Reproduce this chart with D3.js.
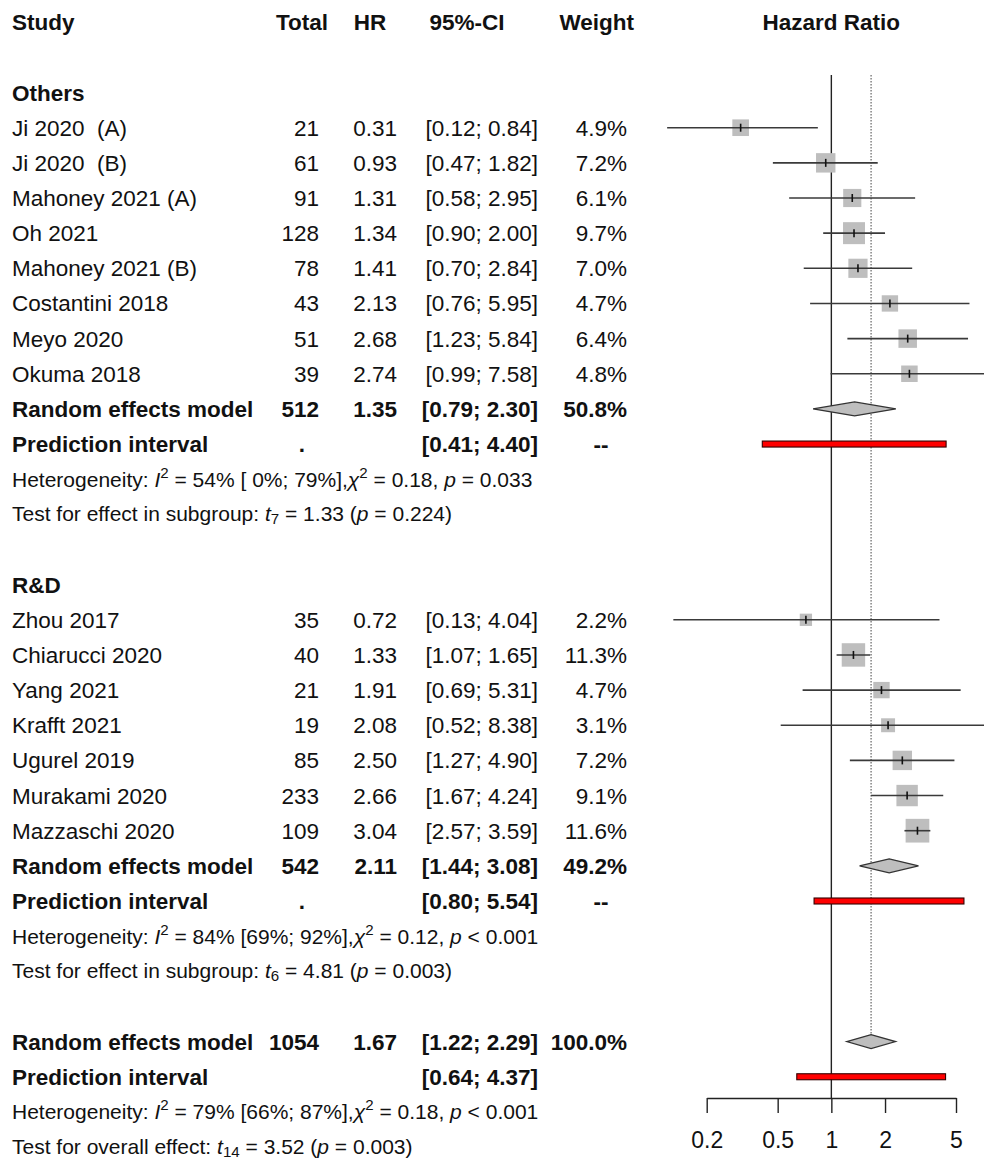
<!DOCTYPE html>
<html><head><meta charset="utf-8">
<script src="https://cdn.jsdelivr.net/npm/d3@7"></script>
<style>
body{margin:0;background:#fff;}
svg{display:block;font-family:"Liberation Sans",Arial,sans-serif;}
text{white-space:pre;fill:#111;}
</style></head>
<body><svg id="c" width="984" height="1160"></svg>
<script>
// ---------- data ----------
const groups = ["Others", "R&D"];
const studies = ["Ji 2020  (A)", "Ji 2020  (B)", "Mahoney 2021 (A)", "Oh 2021", "Mahoney 2021 (B)", "Costantini 2018", "Meyo 2020", "Okuma 2018",
  "Zhou 2017", "Chiarucci 2020", "Yang 2021", "Krafft 2021", "Ugurel 2019", "Murakami 2020", "Mazzaschi 2020"];
const studyGroup = ["Others","Others","Others","Others","Others","Others","Others","Others",
  "R&D","R&D","R&D","R&D","R&D","R&D","R&D"];
const totals = [21, 61, 91, 128, 78, 43, 51, 39, 35, 40, 21, 19, 85, 233, 109];
const hrs    = [0.31, 0.93, 1.31, 1.34, 1.41, 2.13, 2.68, 2.74, 0.72, 1.33, 1.91, 2.08, 2.50, 2.66, 3.04];
const lows   = [0.12, 0.47, 0.58, 0.90, 0.70, 0.76, 1.23, 0.99, 0.13, 1.07, 0.69, 0.52, 1.27, 1.67, 2.57];
const highs  = [0.84, 1.82, 2.95, 2.00, 2.84, 5.95, 5.84, 7.58, 4.04, 1.65, 5.31, 8.38, 4.90, 4.24, 3.59];
const weights = [4.9, 7.2, 6.1, 9.7, 7.0, 4.7, 6.4, 4.8, 2.2, 11.3, 4.7, 3.1, 7.2, 9.1, 11.6];

const groupTotals = [512, 542];
const groupHR = [1.35, 2.11];
const groupLow = [0.79, 1.44];
const groupHigh = [2.30, 3.08];
const groupWeight = ["50.8%", "49.2%"];
const groupPILow = [0.41, 0.80];
const groupPIHigh = [4.40, 5.54];
const groupI2 = ["54%", "84%"];
const groupI2CI = ["[ 0%; 79%]", "[69%; 92%]"];
const groupTau2 = ["0.18", "0.12"];
const groupHetP = ["= 0.033", "< 0.001"];
const groupDf = ["7", "6"];
const groupT = ["1.33", "4.81"];
const groupP = ["0.224", "0.003"];

const overallTotal = 1054, overallHR = 1.67, overallLow = 1.22, overallHigh = 2.29, overallWeight = "100.0%";
const overallPILow = 0.64, overallPIHigh = 4.37;
const overallI2 = "79%", overallI2CI = "[66%; 87%]", overallTau2 = "0.18", overallHetP = "< 0.001";
const overallDf = "14", overallT = "3.52", overallP = "0.003";

const tickValues = [0.2, 0.5, 1, 2, 5];
const tickLabels = ["0.2", "0.5", "1", "2", "5"];

// ---------- layout ----------
const svg = d3.select("#c");
const f2 = d3.format(".2f");
const FS = 22.5, FSH = 21;
const row0 = 127.7, rowH = 35.15;
const y = i => row0 + i * rowH;
const x = d3.scaleLog().domain([0.2, 5]).range([706.7, 956]);
const sq = d3.scaleSqrt().domain([0, 11.6]).range([3.5, 23.7]);
const col = {study: 12, total: 319, hr: 397, ci: 538, w: 627};

function txt(xp, yp, s, anchor, bold, size) {
  return svg.append("text").attr("x", xp).attr("y", yp).attr("text-anchor", anchor || "start")
    .attr("font-size", size || FS).attr("font-weight", bold ? "bold" : "normal").text(s);
}
const ci = (l, h) => "[" + f2(l) + "; " + f2(h) + "]";

// header
const hy = y(-3) + 8;
txt(col.study, hy, "Study", "start", true);
txt(328, hy, "Total", "end", true);
txt(370, hy, "HR", "middle", true);
txt(467, hy, "95%-CI", "middle", true);
txt(634, hy, "Weight", "end", true);
txt(x(1), hy, "Hazard Ratio", "middle", true);

// build rows
const rows = [];
let r = 0;
groups.forEach((g, gi) => {
  rows.push({type: "group", label: g, r: r++});
  studies.forEach((s, i) => { if (studyGroup[i] === g) rows.push({type: "study", i, r: r++}); });
  rows.push({type: "rem", total: groupTotals[gi], hr: groupHR[gi], lo: groupLow[gi], hi: groupHigh[gi], w: groupWeight[gi], r: r++});
  rows.push({type: "pi", lo: groupPILow[gi], hi: groupPIHigh[gi], dot: true, r: r++});
  rows.push({type: "het", i2: groupI2[gi], i2ci: groupI2CI[gi], tau: groupTau2[gi], p: groupHetP[gi], r: r++});
  rows.push({type: "test", label: "Test for effect in subgroup: ", df: groupDf[gi], t: groupT[gi], p: groupP[gi], r: r++});
  r++;
});
rows.push({type: "rem", total: overallTotal, hr: overallHR, lo: overallLow, hi: overallHigh, w: overallWeight, r: r++});
rows.push({type: "pi", lo: overallPILow, hi: overallPIHigh, dot: false, r: r++});
rows.push({type: "het", i2: overallI2, i2ci: overallI2CI, tau: overallTau2, p: overallHetP, r: r++});
rows.push({type: "test", label: "Test for overall effect: ", df: overallDf, t: overallT, p: overallP, r: r++});
rows.forEach(d => d.yy = y(d.r - 1));

const axisY = 1098;
const lastRem = rows.filter(d => d.type === "rem").slice(-1)[0];

// reference lines
svg.append("line").attr("x1", x(1)).attr("x2", x(1)).attr("y1", 75).attr("y2", axisY)
  .attr("stroke", "#222").attr("stroke-width", 1.4);
svg.append("line").attr("x1", x(overallHR)).attr("x2", x(overallHR)).attr("y1", 75).attr("y2", lastRem.yy - 7)
  .attr("stroke", "#444").attr("stroke-width", 1).attr("stroke-dasharray", "1.5,1.5");

rows.forEach(d => {
  const tb = d.yy + 8;
  if (d.type === "group") {
    txt(col.study, tb, d.label, "start", true);
  } else if (d.type === "study") {
    const i = d.i;
    txt(col.study, tb, studies[i]);
    txt(col.total, tb, String(totals[i]), "end");
    txt(col.hr, tb, f2(hrs[i]), "end");
    txt(col.ci, tb, ci(lows[i], highs[i]), "end");
    txt(col.w, tb, weights[i].toFixed(1) + "%", "end");
    const s = sq(weights[i]);
    svg.append("rect").attr("x", x(hrs[i]) - s / 2).attr("y", d.yy - s / 2).attr("width", s).attr("height", s)
      .attr("fill", "#bebebe");
    svg.append("line").attr("x1", x(lows[i])).attr("x2", x(highs[i])).attr("y1", d.yy).attr("y2", d.yy)
      .attr("stroke", "#3a3a3a").attr("stroke-width", 1.6);
    svg.append("line").attr("x1", x(hrs[i])).attr("x2", x(hrs[i])).attr("y1", d.yy - 4).attr("y2", d.yy + 4)
      .attr("stroke", "#111").attr("stroke-width", 1.6);
  } else if (d.type === "rem") {
    txt(col.study, tb, "Random effects model", "start", true);
    txt(col.total, tb, String(d.total), "end", true);
    txt(col.hr, tb, f2(d.hr), "end", true);
    txt(col.ci, tb, ci(d.lo, d.hi), "end", true);
    txt(col.w, tb, d.w, "end", true);
    const h = 7;
    svg.append("path").attr("d", `M${x(d.lo)},${d.yy} L${x(d.hr)},${d.yy - h} L${x(d.hi)},${d.yy} L${x(d.hr)},${d.yy + h} Z`)
      .attr("fill", "#bebebe").attr("stroke", "#333").attr("stroke-width", 1.3);
  } else if (d.type === "pi") {
    txt(col.study, tb, "Prediction interval", "start", true);
    if (d.dot) { txt(302, tb, ".", "middle", true); txt(601, tb, "--", "middle", true); }
    txt(col.ci, tb, ci(d.lo, d.hi), "end", true);
    svg.append("rect").attr("x", x(d.lo)).attr("y", d.yy - 3).attr("width", x(d.hi) - x(d.lo)).attr("height", 6)
      .attr("fill", "#ff0000").attr("stroke", "#300").attr("stroke-width", 1.1);
  } else if (d.type === "het") {
    const t = svg.append("text").attr("x", col.study).attr("y", d.yy + 7.5).attr("font-size", FSH);
    t.append("tspan").text("Heterogeneity: ");
    t.append("tspan").attr("font-style", "italic").text("I");
    t.append("tspan").attr("font-size", FSH * 0.72).attr("dy", -9).text("2");
    t.append("tspan").attr("dy", 9).text(" = " + d.i2 + " " + d.i2ci + ",");
    t.append("tspan").attr("font-style", "italic").text("χ");
    t.append("tspan").attr("font-size", FSH * 0.72).attr("dy", -9).text("2");
    t.append("tspan").attr("dy", 9).text(" = " + d.tau + ", ");
    t.append("tspan").attr("font-style", "italic").text("p");
    t.append("tspan").text(" " + d.p);
  } else if (d.type === "test") {
    const t = svg.append("text").attr("x", col.study).attr("y", d.yy + 7).attr("font-size", FSH);
    t.append("tspan").text(d.label);
    t.append("tspan").attr("font-style", "italic").text("t");
    t.append("tspan").attr("font-size", FSH * 0.72).attr("dy", 3).text(d.df);
    t.append("tspan").attr("dy", -3).text(" = " + d.t + " (");
    t.append("tspan").attr("font-style", "italic").text("p");
    t.append("tspan").text(" = " + d.p + ")");
  }
});

// axis
const ax = svg.append("g").attr("transform", `translate(0,${axisY})`)
  .call(d3.axisBottom(x).tickValues(tickValues).tickFormat((v, i) => tickLabels[i]).tickSize(15).tickPadding(19).tickSizeOuter(0));
ax.select(".domain").attr("stroke", "#222").attr("stroke-width", 1.4);
ax.selectAll(".tick line").attr("stroke", "#222").attr("stroke-width", 1.4);
ax.selectAll(".tick text").attr("font-size", 23).attr("fill", "#111").attr("font-family", "Liberation Sans, Arial, sans-serif");
</script></body></html>
